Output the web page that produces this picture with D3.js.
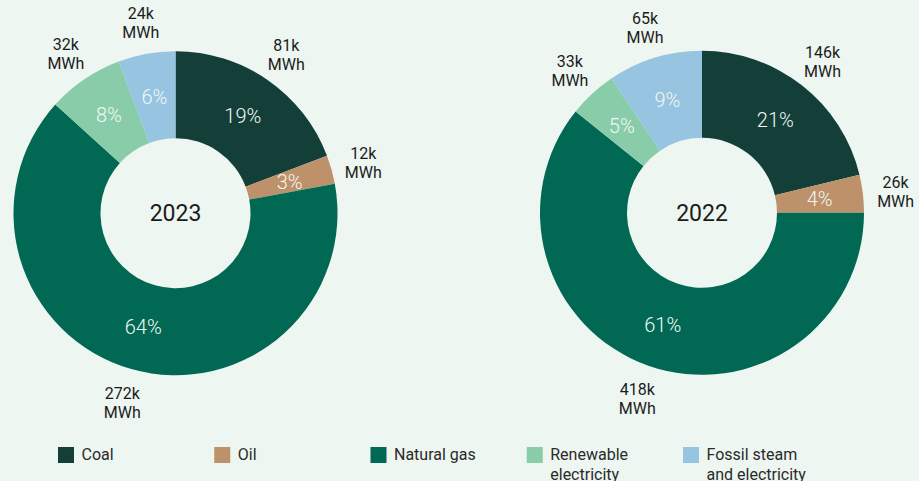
<!DOCTYPE html>
<html><head><meta charset="utf-8">
<script src="https://cdn.jsdelivr.net/npm/d3@7"></script>
<style>
html,body{margin:0;padding:0;background:#edf6f0;}
svg{display:block;font-family:Roboto,"Noto Sans",sans-serif;}
</style></head>
<body><svg id="c" width="919" height="481"></svg>
<script>
const categories = ["Coal","Oil","Natural gas","Renewable electricity","Fossil steam and electricity"];
const legendLines = [["Coal"],["Oil"],["Natural gas"],["Renewable","electricity"],["Fossil steam","and electricity"]];
const colors = ["#133f38","#bd916a","#016854","#89cca9","#96c4e1"];
const years = ["2023","2022"];
const values2023 = [81,12,272,32,24];
const values2022 = [146,26,418,33,65];
const pct2023 = ["19%","3%","64%","8%","6%"];
const pct2022 = ["21%","4%","61%","5%","9%"];

const svg = d3.select("#c");
const centers = [[175.5,213.2],[702,212.8]];
const rOut = 162, rIn = 75, rLab = 195;
const datasets = [values2023, values2022];
const pcts = [pct2023, pct2022];

const pie = d3.pie().sort(null).value(d=>d);
const arc = d3.arc().innerRadius(rIn).outerRadius(rOut);

datasets.forEach((vals, k)=>{
  const g = svg.append("g").attr("transform",`translate(${centers[k][0]},${centers[k][1]})`);
  const arcs = pie(vals);
  g.selectAll("path").data(arcs).enter().append("path")
    .attr("d",arc).attr("fill",(d,i)=>colors[i]);
  g.selectAll("text.pct").data(arcs).enter().append("text")
    .attr("class","pct")
    .attr("transform",d=>{const c=arc.centroid(d);return `translate(${c[0]},${c[1]})`;})
    .attr("text-anchor","middle").attr("dy","0.36em")
    .attr("fill","#f2f8f4").attr("font-size",20).attr("font-weight",300)
    .text((d,i)=>pcts[k][i]);
  arcs.forEach((d,i)=>{
    const a = (d.startAngle+d.endAngle)/2;
    const x = Math.sin(a)*rLab, y = -Math.cos(a)*rLab;
    const t = g.append("text").attr("text-anchor","middle")
      .attr("fill","#1c1c1c").attr("font-size",16)
      .attr("transform",`translate(${x},${y})`);
    t.append("tspan").attr("x",0).attr("y",-2).text(vals[i]+"k");
    t.append("tspan").attr("x",0).attr("y",17).text("MWh");
  });
  g.append("text").attr("text-anchor","middle").attr("dy","0.36em")
    .attr("fill","#1c1c1c").attr("font-size",23).text(years[k]);
});

const lx = d3.scaleLinear().domain([0,4]).range([58,683]);
const lg = svg.append("g");
categories.forEach((c,i)=>{
  lg.append("rect").attr("x",lx(i)).attr("y",447).attr("width",16).attr("height",16).attr("fill",colors[i]);
  const t = lg.append("text").attr("fill","#2a2a2a").attr("font-size",16);
  legendLines[i].forEach((ln,j)=>{
    t.append("tspan").attr("x",lx(i)+23.5).attr("y",460+j*20).text(ln);
  });
});
</script></body></html>
